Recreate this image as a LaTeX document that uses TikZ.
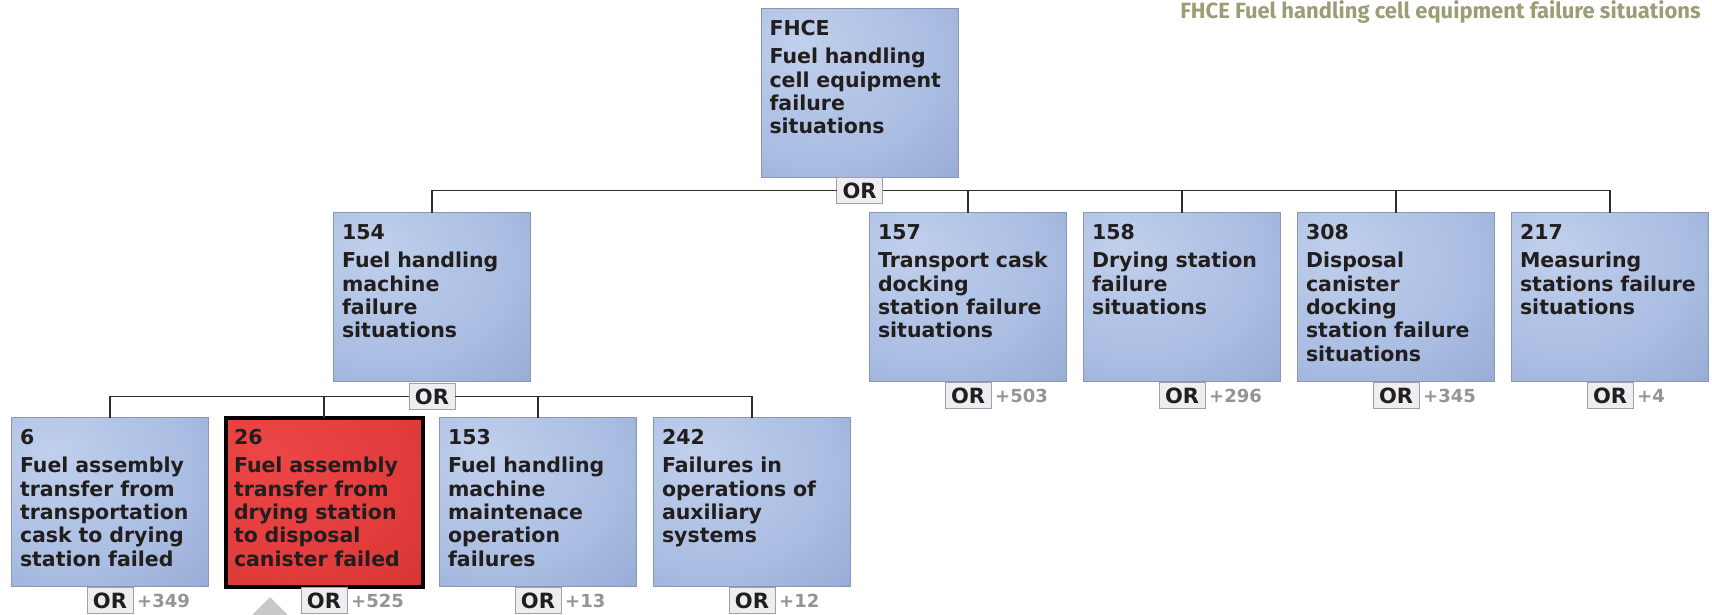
\documentclass[tikz,border=0pt]{standalone}
\usepackage{fontspec}
\setmainfont{DejaVu Sans}
\newfontfamily\headfont{Fira Sans}
\usetikzlibrary{positioning,calc}
\definecolor{ink}{RGB}{34,30,30}
\definecolor{wire}{RGB}{45,45,45}
\definecolor{boxlight}{RGB}{192,208,236}
\definecolor{boxmid}{RGB}{170,189,226}
\definecolor{boxdark}{RGB}{120,144,193}
\definecolor{boxedge}{RGB}{140,150,178}
\definecolor{hitlight}{RGB}{236,70,70}
\definecolor{hitmid}{RGB}{226,60,60}
\definecolor{hitdark}{RGB}{194,42,42}
\definecolor{gatefill}{RGB}{238,238,242}
\definecolor{gateedge}{RGB}{160,160,166}
\definecolor{countgray}{RGB}{148,148,148}
\definecolor{olive}{RGB}{158,156,116}
\definecolor{pointer}{RGB}{200,200,200}
\pgfdeclareradialshading{panel}{\pgfpoint{-15bp}{15bp}}{color(0bp)=(boxlight); color(30bp)=(boxmid); color(75bp)=(boxdark); color(100bp)=(boxdark)}
\pgfdeclareradialshading{hotpanel}{\pgfpoint{-15bp}{15bp}}{color(0bp)=(hitlight); color(30bp)=(hitmid); color(75bp)=(hitdark); color(100bp)=(hitdark)}
\tikzset{
  every picture/.style={x=1pt, y=-1pt},
  node distance=17pt and 17pt,
  event/.style={draw=boxedge, line width=1pt, shade, shading=panel,
    text=ink, font=\bfseries\fontsize{20.5}{23.3}\selectfont, align=left, text width=180pt,
    inner xsep=8.5pt, inner ysep=12pt, text height=15pt, text depth=130pt, outer sep=0pt},
  hit/.style={event, draw=black, line width=4pt, shading=hotpanel},
  gate/.style={draw=gateedge, fill=gatefill, line width=1pt, text=ink, font=\bfseries\fontsize{21}{21}\selectfont,
    minimum width=46pt, minimum height=26pt, inner sep=0pt, outer sep=0pt},
  count/.style={text=countgray, font=\bfseries\fontsize{18}{18}\selectfont, inner sep=0pt},
  wire/.style={draw=wire, line width=1.4pt},
  head/.style={text=olive, font=\headfont\bfseries\fontsize{22}{22}\selectfont, inner sep=0pt},
}

\begin{document}
\begin{tikzpicture}
  \useasboundingbox (0,0) rectangle (1712,614);
  \node[head, anchor=north east] (title) at (1701,0) {FHCE Fuel handling cell equipment failure situations};

  \node[event] (fhce) at (859.5,93) {FHCE\\[5pt]Fuel handling\\cell equipment\\failure\\situations};
  \node[gate, below=0pt of fhce] (gfhce) {OR};

  \node[event] (n154) at (432,297) {154\\[5pt]Fuel handling\\machine\\failure\\situations};
  \node[event] (n157) at (968,297) {157\\[5pt]Transport cask\\docking\\station failure\\situations};
  \node[event, right=of n157] (n158) {158\\[5pt]Drying station\\failure\\situations};
  \node[event, right=of n158] (n308) {308\\[5pt]Disposal\\canister\\docking\\station failure\\situations};
  \node[event, right=of n308] (n217) {217\\[5pt]Measuring\\stations failure\\situations};

  \node[event] (n6) at (110,502) {6\\[5pt]Fuel assembly\\transfer from\\transportation\\cask to drying\\station failed};
  \node[hit, right=of n6] (n26) {26\\[5pt]Fuel assembly\\transfer from\\drying station\\to disposal\\canister failed};
  \node[event, right=of n26] (n153) {153\\[5pt]Fuel handling\\machine\\maintenace\\operation\\failures};
  \node[event, right=of n153] (n242) {242\\[5pt]Failures in\\operations of\\auxiliary\\systems};

  \node[gate, below=2pt of n154] (g154) {OR};
  \foreach \n/\c in {157/503,158/296,308/345,217/4,6/349,26/525,153/13,242/12}{
    \node[gate, below=1pt of n\n] (g\n) {OR};
    \node[count, right=4pt of g\n] (c\n) {+\c};
  }

  \foreach \n in {154,157,158,308,217}
    \draw[wire] (gfhce) -| (n\n);
  \foreach \n in {6,26,153,242}
    \draw[wire] (g154) -| (n\n);

  \fill[pointer] (270,597) -- (291,618) -- (249,618) -- cycle;
\end{tikzpicture}
\end{document}
